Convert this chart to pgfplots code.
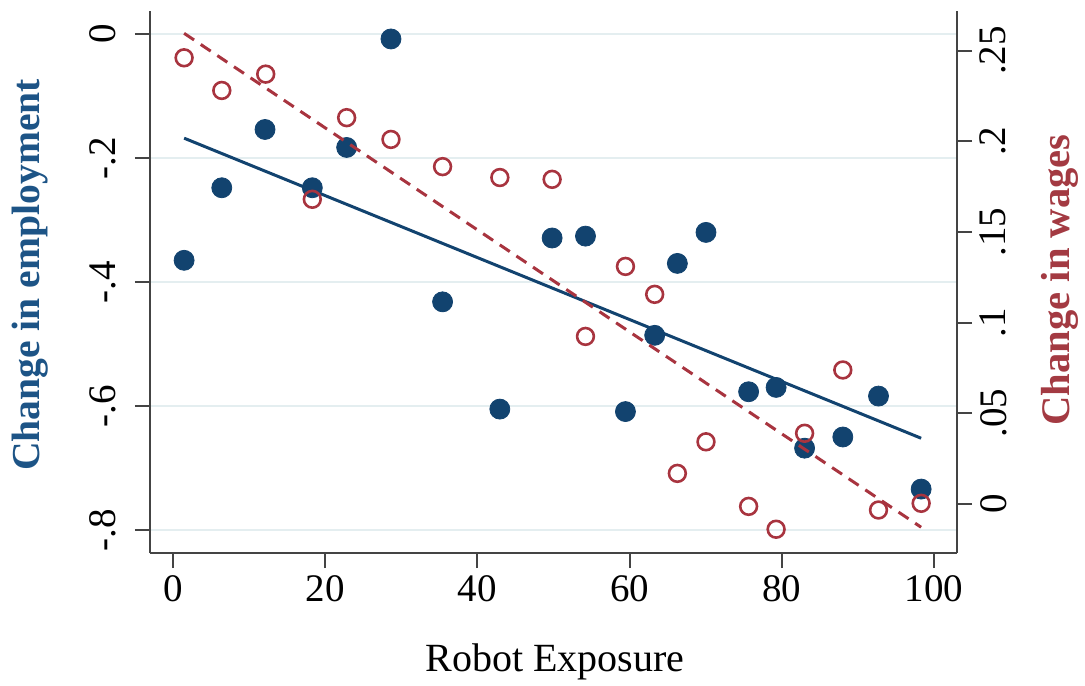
\documentclass[border=0pt]{standalone}
\usepackage{fontspec}
\setmainfont{Liberation Serif}
\usepackage{pgfplots}
\pgfplotsset{compat=1.18}
\definecolor{empblue}{HTML}{12436F}
\definecolor{emptitle}{HTML}{1D5486}
\definecolor{wagered}{HTML}{A8343F}
\definecolor{wagetitle}{HTML}{A33A42}
\definecolor{gridc}{HTML}{E4EEF0}
\definecolor{axc}{HTML}{444444}
\begin{document}
\begin{tikzpicture}
\begin{axis}[
  at={(0,0)}, anchor=south west,
  scale only axis, width=403.5pt, height=271pt,
  xmin=-3, xmax=103, ymin=-0.8371, ymax=0.0371,
  axis x line*=bottom, axis y line*=left,
  axis line style={axc, line width=1pt, -},
  tick style={axc, line width=1pt},
  tick align=outside, major tick length=7.5pt,
  xtick={0,20,40,60,80,100},
  xticklabels={0,20,40,60,80,100},
  ytick={-0.8,-0.6,-0.4,-0.2,0},
  yticklabels={-.8,-.6,-.4,-.2,0},
  minor tick num=0,
  ymajorgrids, major grid style={gridc, line width=1pt},
  ticklabel style={font=\fontsize{19.5}{22}\selectfont, inner sep=0pt},
  xticklabel style={anchor=north},
  xticklabel shift=3.5pt,
  yticklabel style={rotate=90, anchor=south},
  yticklabel shift=9.35pt,
  xlabel={Robot Exposure},
  xlabel style={at={(axis description cs:0.502,-0.2011)}, anchor=center, font=\fontsize{20}{24}\selectfont},
  ylabel={Change in employment},
  ylabel style={at={(axis description cs:-0.1487,0.513)}, anchor=center, font=\fontsize{19.8}{24}\selectfont\bfseries, text=emptitle},
  clip=false,
]
\addplot[only marks, mark=*, mark size=5pt, color=empblue, mark options={fill=empblue, draw=empblue}] coordinates {
(1.48,-0.365) (6.43,-0.248) (12.11,-0.154) (18.32,-0.248) (22.83,-0.183)
(28.65,-0.008) (35.43,-0.432) (42.95,-0.605) (49.82,-0.329) (54.2,-0.326)
(59.45,-0.609) (63.29,-0.486) (66.27,-0.370) (70.03,-0.320) (75.63,-0.577)
(79.24,-0.570) (82.98,-0.668) (88.0,-0.650) (92.69,-0.584) (98.29,-0.734)
};
\addplot[empblue, line width=1.5pt, no marks] coordinates {(1.48,-0.168) (98.29,-0.652)};
\end{axis}
\begin{axis}[
  at={(0,0)}, anchor=south west,
  scale only axis, width=403.5pt, height=271pt,
  xmin=-3, xmax=103, ymin=-0.0270, ymax=0.2718,
  axis x line=none, axis y line*=right,
  axis line style={axc, line width=1pt, -},
  tick style={axc, line width=1pt},
  tick align=outside, major tick length=7.5pt,
  ytick={0,0.05,0.1,0.15,0.2,0.25},
  yticklabels={0,.05,.1,.15,.2,.25},
  minor tick num=0,
  ticklabel style={font=\fontsize{19.5}{22}\selectfont, inner sep=0pt},
  yticklabel style={rotate=90, anchor=north},
  yticklabel shift=3.85pt,
  ylabel={Change in wages},
  ylabel style={at={(axis description cs:1.1276,0.504)}, anchor=center, font=\fontsize{20.3}{24}\selectfont\bfseries, text=wagetitle},
  clip=false,
]
\addplot[only marks, mark=o, mark size=4.2pt, color=wagered, mark options={line width=1.3pt, draw=wagered}] coordinates {
(1.48,0.246) (6.43,0.228) (12.2,0.237) (18.32,0.168) (22.83,0.213)
(28.65,0.201) (35.43,0.186) (42.95,0.180) (49.82,0.179) (54.2,0.0924)
(59.45,0.131) (63.29,0.1156) (66.27,0.0169) (70.03,0.0343) (75.63,-0.0013)
(79.24,-0.0139) (82.98,0.039) (88.0,0.0739) (92.69,-0.0033) (98.29,0.0004)
};
\addplot[wagered, line width=1.5pt, dash pattern=on 6pt off 4pt, no marks] coordinates {(1.48,0.2595) (98.29,-0.0128)};
\end{axis}
\pgfresetboundingbox
\path[use as bounding box] (-75pt,-66pt) rectangle (467.5pt,276.5pt);
\end{tikzpicture}
\end{document}
